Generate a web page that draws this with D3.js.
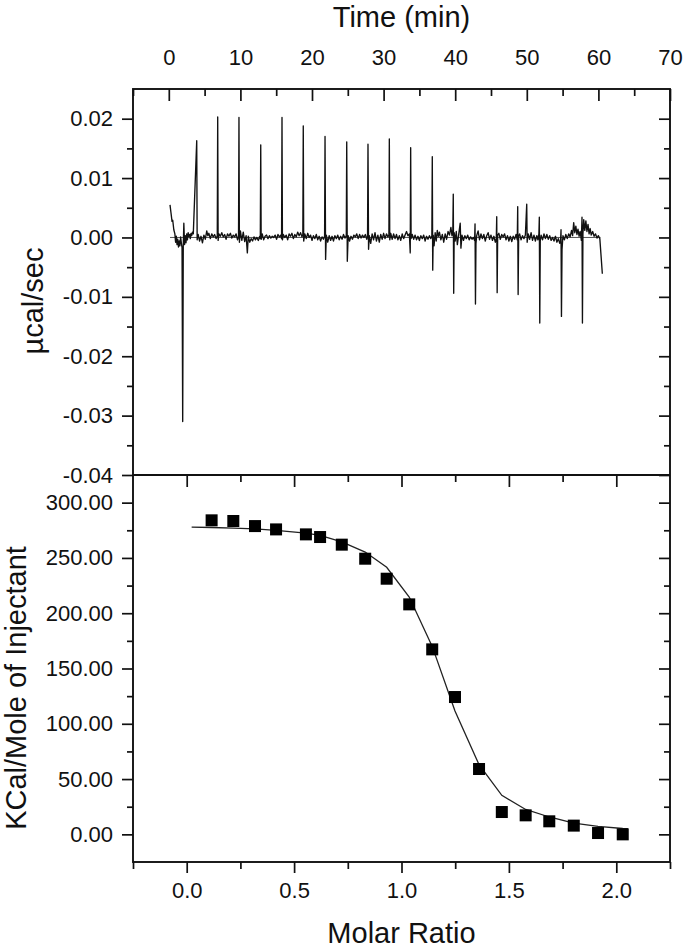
<!DOCTYPE html>
<html><head><meta charset="utf-8">
<script src="https://cdn.jsdelivr.net/npm/d3@7"></script>
<style>
body{margin:0;background:#fff}
svg{display:block;background:#fff}
text{font-family:"Liberation Sans",Arial,sans-serif;fill:#111}
</style>
</head><body>
<svg id="chart" width="685" height="951"></svg>
<script>
// ---------- tick values ----------
const timeTicks = [0, 10, 20, 30, 40, 50, 60, 70];
const timeMinor = [-5, 5, 15, 25, 35, 45, 55, 65];
const powerTicks = [-0.04, -0.03, -0.02, -0.01, 0.00, 0.01, 0.02];
const powerMinor = [-0.035, -0.025, -0.015, -0.005, 0.005, 0.015];
const ratioTicks = [0.0, 0.5, 1.0, 1.5, 2.0];
const ratioMinor = [-0.25, 0.25, 0.75, 1.25, 1.75, 2.25];
const heatTicks = [0, 50, 100, 150, 200, 250, 300];
const heatMinor = [25, 75, 125, 175, 225, 275];

// ---------- raw thermogram: [time (min), power (µcal/sec)] ----------
const trace = [
[0.17,0.0055],[0.3,0.0042],[0.45,0.0027],[0.55,0.0029],[0.7,0.0013],[0.85,0.0006],[0.95,-0.0008],[1.05,0.0002],[1.15,-0.0012],[1.25,-0.0003],[1.35,-0.0016],[1.45,-0.0006],[1.55,-0.0014],[1.65,0.0001],[1.75,-0.0009],[1.85,-0.0017],
[1.94,-0.0310],[2.02,-0.0015],[2.1,0.0024],[2.2,-0.0012],[2.3,0.0003],[2.4,-0.0009],[2.5,0.0006],[2.6,-0.0004],[2.7,0.0008],[2.8,0.0002],[2.9,0.0005],[3.0,-0.0002],[3.1,0.0007],[3.2,0.0003],[3.3,0.0009],[3.42,0.0006],
[3.9,0.0163],[3.96,-0.0004],[4.1,0.0005],[4.3,-0.0006],[4.5,0.0002],[4.7,-0.0009],[4.9,0.0004],[5.1,-0.0003],[5.3,0.0011],[5.45,0.0003],[5.6,0.0007],[5.8,-0.0002],[6.0,0.0006],[6.2,0.0001],[6.4,0.0005],[6.6,-0.0002],[6.77,0.0003],
[6.83,0.0203],[6.89,-0.0005],[7.0,0.0006],[7.2,0.0002],[7.4,0.0008],[7.6,0.0001],[7.8,0.0005],[8.0,-0.0003],[8.2,0.0006],[8.4,0.0002],[8.6,0.0007],[8.8,-0.0001],[9.0,0.0004],[9.2,0.0001],[9.4,0.0006],[9.6,-0.0004],[9.74,0.0002],
[9.80,0.0202],[9.86,-0.0008],[10.0,0.0011],[10.2,-0.0005],[10.4,0.0009],[10.6,-0.0007],[10.8,0.0003],[10.97,-0.0026],[11.1,0.0002],[11.3,-0.0008],[11.5,-0.0002],[11.7,-0.0006],[11.9,0.0001],[12.1,-0.0004],[12.3,0.0000],[12.5,-0.0005],[12.7,0.0002],[12.78,-0.0002],
[12.84,0.0156],[12.9,-0.0003],[13.05,0.0006],[13.25,-0.0004],[13.45,0.0002],[13.65,0.0004],[13.85,-0.0002],[14.05,0.0003],[14.25,-0.0001],[14.45,0.0002],[14.65,0.0000],[14.85,0.0004],[15.05,-0.0003],[15.25,0.0005],[15.45,0.0001],[15.65,0.0004],[15.75,-0.0002],
[15.81,0.0202],[15.87,-0.0004],[16.0,0.0005],[16.2,0.0000],[16.4,0.0004],[16.6,-0.0004],[16.8,0.0006],[17.0,0.0002],[17.2,0.0007],[17.4,-0.0002],[17.6,0.0005],[17.8,0.0001],[18.0,0.0009],[18.2,0.0003],[18.4,0.0008],[18.6,0.0001],[18.72,0.0005],
[18.78,0.0188],[18.84,-0.0006],[19.0,0.0006],[19.2,-0.0002],[19.4,0.0007],[19.6,0.0000],[19.8,0.0004],[20.0,-0.0005],[20.2,0.0003],[20.4,-0.0002],[20.6,0.0005],[20.8,-0.0004],[21.0,0.0002],[21.2,-0.0006],[21.4,0.0001],[21.6,-0.0003],[21.76,0.0002],
[21.82,0.0170],[21.9,-0.0037],[22.0,0.0004],[22.2,-0.0008],[22.4,0.0003],[22.6,-0.0005],[22.8,0.0002],[23.0,-0.0006],[23.2,0.0003],[23.4,-0.0002],[23.6,0.0004],[23.8,-0.0004],[24.0,0.0002],[24.2,-0.0003],[24.4,0.0005],[24.6,-0.0001],[24.79,0.0003],
[24.85,0.0161],[24.93,-0.0040],[25.05,0.0003],[25.25,-0.0006],[25.45,0.0002],[25.65,-0.0003],[25.85,0.0004],[26.05,0.0001],[26.25,0.0006],[26.45,-0.0002],[26.65,0.0005],[26.85,-0.0001],[27.05,0.0004],[27.25,0.0000],[27.45,0.0005],[27.65,-0.0003],[27.76,0.0002],
[27.82,0.0157],[27.9,-0.0020],[28.0,0.0003],[28.2,-0.0010],[28.4,0.0006],[28.6,-0.0004],[28.8,0.0008],[29.0,-0.0006],[29.2,0.0004],[29.4,-0.0008],[29.6,0.0005],[29.8,-0.0003],[30.0,0.0007],[30.2,-0.0002],[30.4,0.0006],[30.6,0.0001],[30.74,0.0004],
[30.80,0.0166],[30.86,-0.0004],[31.0,0.0007],[31.2,-0.0003],[31.4,0.0006],[31.6,-0.0002],[31.8,0.0005],[32.0,-0.0004],[32.2,0.0003],[32.4,-0.0005],[32.6,0.0006],[32.8,-0.0002],[33.0,0.0004],[33.2,0.0010],[33.4,0.0003],[33.6,0.0006],[33.72,-0.0026],
[33.78,0.0151],[33.84,-0.0002],[34.0,0.0005],[34.2,-0.0003],[34.4,0.0004],[34.6,-0.0004],[34.8,0.0002],[35.0,-0.0005],[35.2,0.0003],[35.4,-0.0002],[35.6,0.0004],[35.8,-0.0006],[36.0,0.0002],[36.2,-0.0003],[36.4,0.0003],[36.6,-0.0002],[36.74,0.0003],
[36.80,0.0136],[36.86,-0.0055],[36.93,0.0004],[37.05,-0.0014],[37.2,0.0008],[37.35,-0.0006],[37.5,0.0012],[37.65,0.0002],[37.8,0.0009],[38.0,-0.0004],[38.2,0.0005],[38.4,-0.0008],[38.6,0.0006],[38.8,-0.0003],[39.0,0.0010],[39.2,0.0004],[39.4,0.0017],[39.55,0.0003],[39.67,0.0013],
[39.73,0.0073],[39.79,-0.0094],[39.86,0.0008],[40.0,-0.0006],[40.15,0.0010],[40.3,-0.0012],[40.5,0.0006],[40.7,0.0024],[40.8,-0.0018],[40.95,0.0004],[41.15,-0.0005],[41.35,0.0003],[41.55,-0.0002],[41.75,0.0004],[41.95,-0.0004],[42.15,0.0001],[42.35,-0.0003],[42.55,0.0000],[42.71,-0.0005],
[42.77,0.0023],[42.83,-0.0112],[42.9,-0.0010],[43.0,0.0003],[43.2,0.0011],[43.4,-0.0004],[43.6,0.0006],[43.8,-0.0002],[44.0,0.0005],[44.2,-0.0006],[44.4,0.0003],[44.6,0.0008],[44.8,-0.0003],[45.0,0.0004],[45.2,-0.0005],[45.4,0.0002],[45.6,-0.0008],[45.74,-0.0002],
[45.80,0.0035],[45.86,-0.0093],[45.93,0.0004],[46.1,0.0007],[46.3,-0.0003],[46.5,0.0005],[46.7,0.0001],[46.9,0.0006],[47.1,-0.0004],[47.3,0.0003],[47.5,-0.0006],[47.7,0.0002],[47.9,-0.0007],[48.1,0.0002],[48.3,-0.0003],[48.5,0.0005],[48.67,-0.0004],
[48.73,0.0052],[48.79,-0.0096],[48.86,0.0002],[49.0,0.0006],[49.2,-0.0004],[49.4,0.0003],[49.6,-0.0002],[49.8,0.0004],[49.99,0.0056],[50.05,-0.0008],[50.2,0.0006],[50.4,-0.0003],[50.6,0.0008],[50.8,-0.0005],[51.0,0.0004],[51.2,-0.0006],[51.4,0.0003],[51.55,-0.0004],[51.69,0.0006],
[51.75,0.0034],[51.81,-0.0144],[51.88,-0.0006],[52.0,0.0004],[52.2,-0.0004],[52.4,0.0006],[52.6,-0.0002],[52.8,0.0005],[53.0,-0.0003],[53.2,0.0003],[53.4,-0.0005],[53.6,0.0000],[53.8,-0.0006],[54.0,0.0002],[54.2,-0.0008],[54.4,-0.0002],[54.6,-0.0010],[54.72,-0.0004],
[54.78,0.0013],[54.84,-0.0133],[54.92,-0.0020],[55.05,0.0003],[55.25,-0.0004],[55.45,0.0005],[55.65,-0.0002],[55.85,0.0006],[56.05,0.0001],[56.25,0.0012],[56.4,0.0003],[56.55,0.0025],[56.7,0.0008],[56.85,0.0019],[57.0,0.0005],[57.15,0.0014],[57.3,0.0002],[57.45,0.0010],[57.62,-0.0005],
[57.71,0.0034],[57.77,-0.0144],[57.84,0.0006],[57.95,0.0030],[58.1,0.0012],[58.25,0.0028],[58.4,0.0010],[58.55,0.0022],[58.7,0.0006],[58.85,0.0015],[59.0,0.0004],[59.2,0.0010],[59.4,0.0002],[59.6,0.0006],[59.8,-0.0001],[60.0,0.0003],[60.2,-0.0002],[60.55,-0.0061]
];
const baselineTime = [0.17, 60.3];
const baselinePower = [0.0, 0.0];

// ---------- integrated heats ----------
const molarRatio = [0.116,0.217,0.318,0.416,0.555,0.621,0.722,0.831,0.931,1.036,1.143,1.249,1.361,1.467,1.578,1.688,1.802,1.915,2.030];
const heatPerMole = [284.0,283.4,278.8,275.8,271.3,268.9,262.0,249.3,231.2,208.0,167.3,124.2,59.1,20.2,17.2,11.8,7.9,1.2,0.0];

// ---------- fitted curve ----------
const fitRatio = [0.023,0.116,0.217,0.318,0.416,0.555,0.621,0.722,0.831,0.931,1.036,1.143,1.249,1.361,1.467,1.578,1.688,1.802,1.915,2.030,2.054];
const fitHeat = [277.9,277.5,277.0,276.2,275.0,272.5,270.5,264.5,255.3,241.5,214.6,170.0,111.5,63.0,35.3,22.5,15.7,10.2,7.2,5.3,5.1];

// ---------- layout ----------
const L = 133, R = 670, T = 89, MID = 475, B = 862;
const FONT = '"Liberation Sans", Arial, sans-serif';
const svg = d3.select("#chart");
svg.append("rect").attr("width",685).attr("height",951).attr("fill","#fff");

const tx = d3.scaleLinear().domain([-5, 70]).range([L, R]);
const ty = d3.scaleLinear().domain([-0.04, 0.025]).range([MID, T]);
const mx = d3.scaleLinear().domain([-0.25, 2.25]).range([L, R]);
const my = d3.scaleLinear().domain([-25, 325]).range([B, MID]);

function styleAxis(g, size){
  g.select(".domain").remove();
  g.attr("font-size", size).attr("font-family", FONT);
  g.selectAll("line").attr("stroke","#111").attr("stroke-width",1.7);
  g.selectAll("text").attr("fill","#111");
}

svg.append("clipPath").attr("id","clipTop").append("rect").attr("x",L).attr("y",T).attr("width",R-L).attr("height",MID-T);
svg.append("clipPath").attr("id","clipBot").append("rect").attr("x",L).attr("y",MID).attr("width",R-L).attr("height",B-MID);

// ---------- top panel ----------
svg.append("path")
  .attr("d", d3.line().x((d,i)=>tx(baselineTime[i])).y((d,i)=>ty(baselinePower[i]))(baselineTime))
  .attr("stroke","#555").attr("stroke-width",1).attr("fill","none");
svg.append("path")
  .attr("clip-path","url(#clipTop)")
  .attr("d", d3.line().x(d=>tx(d[0])).y(d=>ty(d[1]))(trace))
  .attr("stroke","#111").attr("stroke-width",1.35).attr("fill","none").attr("stroke-linejoin","round");

svg.append("g").attr("transform",`translate(0,${T})`)
  .call(d3.axisTop(tx).tickValues(timeTicks).tickSize(-12).tickPadding(24).tickFormat(d=>String(d)))
  .call(g=>styleAxis(g,22));
svg.append("g").attr("transform",`translate(0,${T})`)
  .call(d3.axisTop(tx).tickValues(timeMinor).tickSize(-7).tickFormat(""))
  .call(g=>styleAxis(g,22));

svg.append("g").attr("transform",`translate(${L},0)`)
  .call(d3.axisLeft(ty).tickValues(powerTicks).tickSize(11).tickPadding(9).tickFormat(d=>d.toFixed(2)))
  .call(g=>styleAxis(g,22));
svg.append("g").attr("transform",`translate(${L},0)`)
  .call(d3.axisLeft(ty).tickValues(powerMinor).tickSize(6).tickFormat(""))
  .call(g=>styleAxis(g,22));
svg.append("g").attr("transform",`translate(${R},0)`)
  .call(d3.axisRight(ty).tickValues(powerTicks).tickSize(-11).tickFormat(""))
  .call(g=>styleAxis(g,22));
svg.append("g").attr("transform",`translate(${R},0)`)
  .call(d3.axisRight(ty).tickValues(powerMinor).tickSize(-6).tickFormat(""))
  .call(g=>styleAxis(g,22));

// ---------- bottom panel ----------
svg.append("path")
  .attr("clip-path","url(#clipBot)")
  .attr("d", d3.line().x((d,i)=>mx(fitRatio[i])).y((d,i)=>my(fitHeat[i]))(fitRatio))
  .attr("stroke","#222").attr("stroke-width",1.3).attr("fill","none");
const sq = 12;
svg.append("g").selectAll("rect").data(molarRatio).join("rect")
  .attr("x",(d)=>mx(d)-sq/2).attr("y",(d,i)=>my(heatPerMole[i])-sq/2)
  .attr("width",sq).attr("height",sq).attr("fill","#000");

svg.append("g").attr("transform",`translate(0,${B})`)
  .call(d3.axisBottom(mx).tickValues(ratioTicks).tickSize(11).tickPadding(9).tickFormat(d=>d.toFixed(1)))
  .call(g=>styleAxis(g,22));
svg.append("g").attr("transform",`translate(0,${B})`)
  .call(d3.axisBottom(mx).tickValues(ratioMinor).tickSize(7).tickFormat(""))
  .call(g=>styleAxis(g,22));
svg.append("g").attr("transform",`translate(0,${MID})`)
  .call(d3.axisTop(mx).tickValues(ratioTicks).tickSize(-12).tickFormat(""))
  .call(g=>styleAxis(g,22));
svg.append("g").attr("transform",`translate(0,${MID})`)
  .call(d3.axisTop(mx).tickValues(ratioMinor.slice(1,-1)).tickSize(-7).tickFormat(""))
  .call(g=>styleAxis(g,22));
svg.append("g").attr("transform",`translate(${L},0)`)
  .call(d3.axisLeft(my).tickValues(heatTicks).tickSize(11).tickPadding(9).tickFormat(d=>d.toFixed(2)))
  .call(g=>styleAxis(g,22));
svg.append("g").attr("transform",`translate(${L},0)`)
  .call(d3.axisLeft(my).tickValues(heatMinor).tickSize(6).tickFormat(""))
  .call(g=>styleAxis(g,22));
svg.append("g").attr("transform",`translate(${R},0)`)
  .call(d3.axisRight(my).tickValues(heatTicks).tickSize(-11).tickFormat(""))
  .call(g=>styleAxis(g,22));
svg.append("g").attr("transform",`translate(${R},0)`)
  .call(d3.axisRight(my).tickValues(heatMinor).tickSize(-6).tickFormat(""))
  .call(g=>styleAxis(g,22));

// ---------- frames ----------
svg.append("rect").attr("x",L).attr("y",T).attr("width",R-L).attr("height",B-T)
  .attr("fill","none").attr("stroke","#111").attr("stroke-width",1.9);
svg.append("line").attr("x1",L).attr("x2",R).attr("y1",MID).attr("y2",MID)
  .attr("stroke","#111").attr("stroke-width",1.9);

// ---------- titles ----------
svg.append("text").attr("x",(L+R)/2).attr("y",27).attr("text-anchor","middle")
  .attr("font-size",29).text("Time (min)");
svg.append("text").attr("x",(L+R)/2).attr("y",943).attr("text-anchor","middle")
  .attr("font-size",29).text("Molar Ratio");
svg.append("text").attr("transform","translate(43,301) rotate(-90)").attr("text-anchor","middle")
  .attr("font-size",29).text("µcal/sec");
svg.append("text").attr("transform","translate(26,688) rotate(-90)").attr("text-anchor","middle")
  .attr("font-size",29).text("KCal/Mole of Injectant");
</script>
</body></html>
